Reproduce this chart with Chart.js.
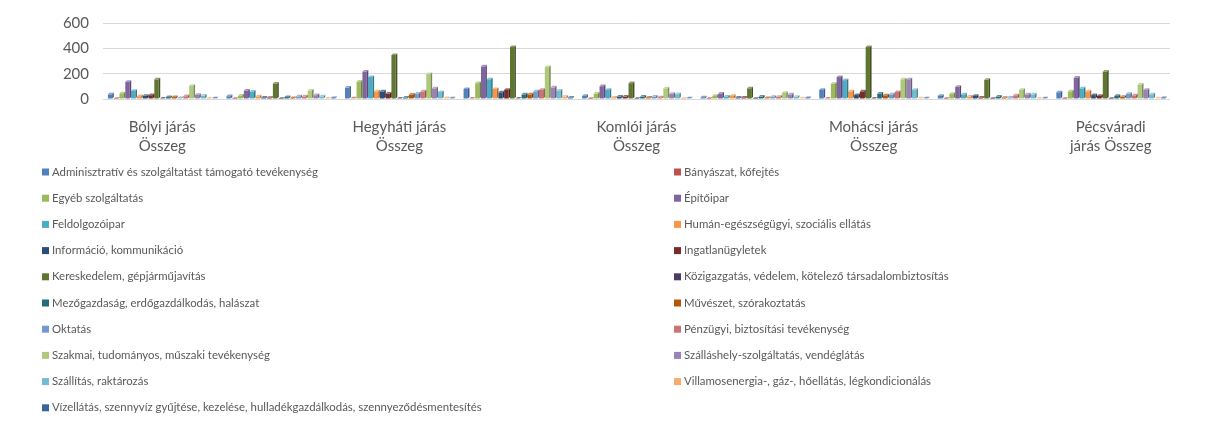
<!DOCTYPE html>
<html lang="hu">
<head>
<meta charset="utf-8">
<title>Vállalkozások nemzetgazdasági ágak szerint</title>
<script src="https://cdn.jsdelivr.net/npm/chart.js@4.4.1/dist/chart.umd.min.js"></script>
<style>
  html, body { margin: 0; padding: 0; background: #fff; }
  #chart { display: block; }
</style>
</head>
<body>
<canvas id="chart" width="1208" height="425"></canvas>
<script>
// only every second category label is shown, like in the original
const categories = [
  'Bólyi járás Összeg', 'Sellyei járás Összeg', 'Hegyháti járás Összeg',
  'Siklósi járás Összeg', 'Komlói járás Összeg', 'Szentlőrinci járás Összeg',
  'Mohácsi járás Összeg', 'Szigetvári járás Összeg', 'Pécsváradi járás Összeg'
];

const seriesNames = [
  'Adminisztratív és szolgáltatást támogató tevékenység',
  'Bányászat, kőfejtés',
  'Egyéb szolgáltatás',
  'Építőipar',
  'Feldolgozóipar',
  'Humán-egészségügyi, szociális ellátás',
  'Információ, kommunikáció',
  'Ingatlanügyletek',
  'Kereskedelem, gépjárműjavítás',
  'Közigazgatás, védelem, kötelező társadalombiztosítás',
  'Mezőgazdaság, erdőgazdálkodás, halászat',
  'Művészet, szórakoztatás',
  'Oktatás',
  'Pénzügyi, biztosítási tevékenység',
  'Szakmai, tudományos, műszaki tevékenység',
  'Szálláshely-szolgáltatás, vendéglátás',
  'Szállítás, raktározás',
  'Villamosenergia-, gáz-, hőellátás, légkondicionálás',
  'Vízellátás, szennyvíz gyűjtése, kezelése, hulladékgazdálkodás, szennyeződésmentesítés'
];

const adminisztrativ = [37, 22, 90, 79, 24, 14, 72, 24, 53];
const banyaszat      = [2, 1, 5, 3, 1, 1, 3, 1, 1];
const egyeb          = [45, 27, 137, 125, 43, 24, 120, 41, 60];
const epitoipar      = [136, 67, 216, 257, 101, 43, 173, 96, 168];
const feldolgozo     = [64, 59, 173, 156, 72, 19, 149, 36, 84];
const human          = [22, 20, 60, 79, 12, 24, 60, 19, 60];
const informacio     = [25, 12, 60, 53, 19, 12, 31, 24, 31];
const ingatlan       = [30, 10, 43, 72, 19, 12, 60, 12, 24];
const kereskedelem   = [155, 121, 347, 410, 125, 84, 410, 151, 216];
const kozigazgatas   = [3, 2, 3, 3, 2, 2, 3, 2, 2];
const mezogazdasag   = [15, 15, 12, 36, 19, 19, 43, 19, 24];
const muveszet       = [15, 8, 34, 36, 12, 7, 29, 10, 17];
const oktatas        = [7, 20, 43, 60, 19, 17, 36, 12, 41];
const penzugyi       = [22, 20, 60, 72, 14, 17, 55, 29, 29];
const szakmai        = [104, 67, 197, 252, 84, 48, 156, 72, 113];
const szallashely    = [32, 30, 84, 91, 41, 36, 156, 36, 72];
const szallitas      = [27, 20, 55, 67, 38, 17, 72, 36, 36];
const villamos       = [3, 3, 7, 19, 2, 5, 5, 4, 5];
const vizellatas     = [5, 7, 5, 12, 5, 7, 5, 5, 7];

const seriesValues = [
  adminisztrativ, banyaszat, egyeb, epitoipar, feldolgozo, human, informacio,
  ingatlan, kereskedelem, kozigazgatas, mezogazdasag, muveszet, oktatas,
  penzugyi, szakmai, szallashely, szallitas, villamos, vizellatas
];

const yTicks = [0, 200, 400, 600];

// Office 2007/2010 palette
const colors = [
  '#4F81BD', '#C0504D', '#9BBB59', '#8064A2', '#4BACC6', '#F79646',
  '#2C4D75', '#772C2A', '#5F7530', '#4D3B62', '#276A7C', '#B65708',
  '#729ACA', '#CD7371', '#AFC97A', '#9983B5', '#6FBDD1', '#F9AB6B',
  '#3B6497'
];

const textColor = '#595959';

function shade(hex, f) {
  const n = parseInt(hex.slice(1), 16);
  const c = [(n >> 16) & 255, (n >> 8) & 255, n & 255].map(v => {
    const out = f > 1 ? v + (255 - v) * (f - 1) : v * f;
    return Math.round(Math.max(0, Math.min(255, out)));
  });
  return 'rgb(' + c.join(',') + ')';
}

function wrapLabel(text, maxChars) {
  const words = text.split(' ');
  const lines = [];
  let line = '';
  words.forEach(w => {
    const test = line ? line + ' ' + w : w;
    if (test.length > maxChars && line) {
      lines.push(line);
      line = w;
    } else {
      line = test;
    }
  });
  lines.push(line);
  return lines;
}

// fake the little 3D top and side faces of the Excel columns
const bar3d = {
  id: 'bar3d',
  afterDatasetsDraw(chart) {
    const ctx = chart.ctx;
    const d = 1.6;
    ctx.save();
    chart.data.datasets.forEach((ds, i) => {
      const meta = chart.getDatasetMeta(i);
      meta.data.forEach(bar => {
        const p = bar.getProps(['x', 'y', 'base', 'width'], true);
        const l = p.x - p.width / 2;
        const r = p.x + p.width / 2;
        ctx.fillStyle = shade(ds.backgroundColor, 1.3);
        ctx.beginPath();
        ctx.moveTo(l, p.y);
        ctx.lineTo(r, p.y);
        ctx.lineTo(r + d, p.y - d);
        ctx.lineTo(l + d, p.y - d);
        ctx.closePath();
        ctx.fill();
        ctx.fillStyle = shade(ds.backgroundColor, 0.7);
        ctx.beginPath();
        ctx.moveTo(r, p.y);
        ctx.lineTo(r + d, p.y - d);
        ctx.lineTo(r + d, p.base - d);
        ctx.lineTo(r, p.base);
        ctx.closePath();
        ctx.fill();
      });
    });
    ctx.restore();
  }
};

// two column legend under the plot, filled row by row like Excel does
const gridLegend = {
  id: 'gridLegend',
  afterDraw(chart) {
    const ctx = chart.ctx;
    const colX = [42, 674];
    const top = 172;
    const rowH = 26.2;
    const box = 7;
    ctx.save();
    ctx.font = '11.4px Lato, sans-serif';
    ctx.textBaseline = 'middle';
    ctx.textAlign = 'left';
    chart.data.datasets.forEach((ds, i) => {
      const x = colX[i % 2];
      const y = top + Math.floor(i / 2) * rowH;
      ctx.fillStyle = ds.backgroundColor;
      ctx.fillRect(x, y - box / 2, box, box);
      ctx.fillStyle = textColor;
      ctx.fillText(ds.label, x + box + 3, y);
    });
    ctx.restore();
  }
};

const datasets = seriesNames.map((name, i) => ({
  label: name,
  data: seriesValues[i],
  backgroundColor: colors[i],
  borderWidth: 0,
  categoryPercentage: 0.93,
  barPercentage: 0.74
}));

Chart.defaults.font.family = 'Lato, sans-serif';
Chart.defaults.color = textColor;

new Chart(document.getElementById('chart'), {
  type: 'bar',
  data: { labels: categories, datasets: datasets },
  options: {
    responsive: false,
    animation: false,
    layout: { padding: { left: 0, right: 38, top: 19, bottom: 266 } },
    plugins: {
      legend: { display: false },
      tooltip: { enabled: true }
    },
    scales: {
      x: {
        grid: { display: false },
        border: { display: false },
        afterFit: s => { s.height = 60; },
        ticks: {
          autoSkip: false,
          maxRotation: 0,
          padding: 10,
          font: { size: 15, lineHeight: 1.3 },
          color: textColor,
          callback: (value, index) => index % 2 === 0 ? wrapLabel(categories[index], 14) : ''
        }
      },
      y: {
        min: yTicks[0],
        max: yTicks[yTicks.length - 1],
        afterFit: s => { s.width = 103; },
        afterBuildTicks: s => { s.ticks = yTicks.map(v => ({ value: v })); },
        grid: { color: '#D9D9D9', drawTicks: false },
        border: { display: false },
        ticks: {
          padding: 14,
          font: { size: 15 },
          color: textColor
        }
      }
    }
  },
  plugins: [bar3d, gridLegend]
});
</script>
</body>
</html>
